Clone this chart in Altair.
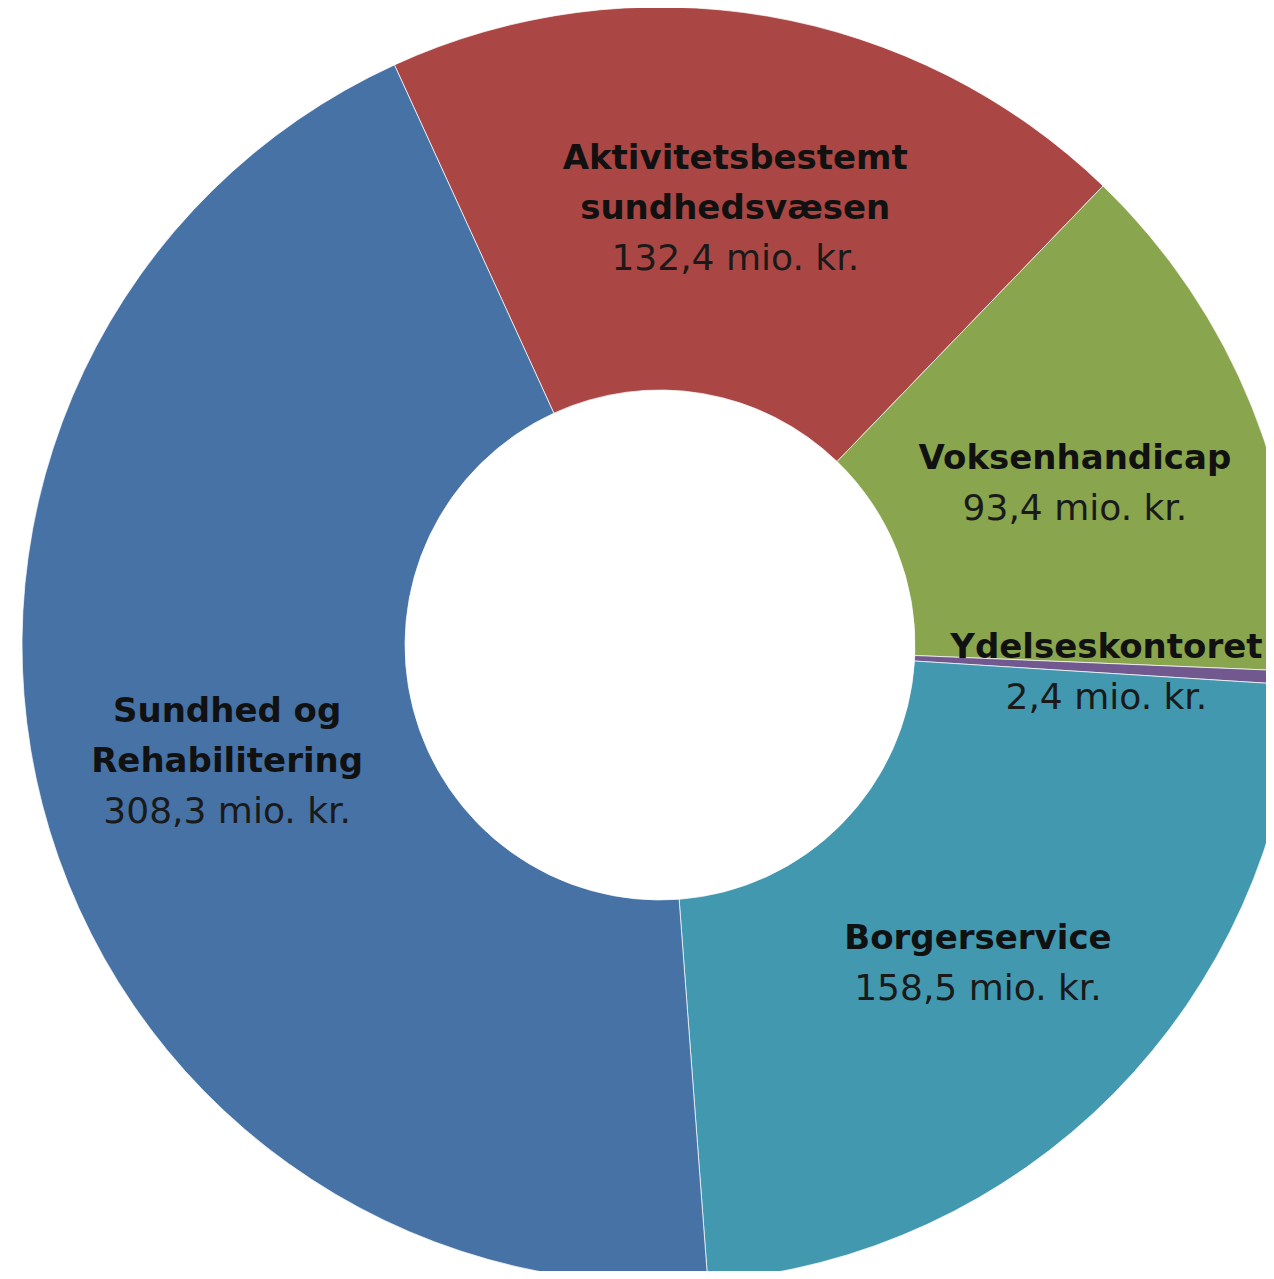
import math
import altair as alt
import pandas as pd

# ---- data ----
categories = ["Aktivitetsbestemt sundhedsvæsen", "Voksenhandicap", "Ydelseskontoret",
              "Borgerservice", "Sundhed og Rehabilitering"]
name_lines = [["Aktivitetsbestemt", "sundhedsvæsen"], ["Voksenhandicap"], ["Ydelseskontoret"],
              ["Borgerservice"], ["Sundhed og", "Rehabilitering"]]
values = [132.4, 93.4, 2.4, 158.5, 308.3]
colors = ["#AA4744", "#89A54E", "#71588F", "#4298AF", "#4672A5"]

value_labels = [f"{v:.1f}".replace(".", ",") + " mio. kr." for v in values]
total = sum(values)

df = pd.DataFrame({"category": categories, "value": values, "order": list(range(len(values)))})

# label lines: one row per text line, positioned at the middle of its slice (data units)
rows = []
cum = 0.0
for cat, v, nl, lbl in zip(categories, values, name_lines, value_labels):
    mid = cum + v / 2
    cum += v
    lines = [(t, "bold") for t in nl] + [(lbl, "normal")]
    n = len(lines)
    for k, (t, w) in enumerate(lines):
        rows.append({"category": cat, "mid": mid, "text": t, "weight": w,
                     "off": int(2 * k - (n - 1))})   # offset in half-lines
lines_df = pd.DataFrame(rows)

start = math.radians(-24.6)
theta_scale = alt.Scale(domain=[0, total], range=[start, start + 2 * math.pi])

cx, cy = 652, 637
LINE_H = 50
LABEL_R = 447
LABEL_SHIFT = 5

arcs = alt.Chart(df).mark_arc(outerRadius=638, innerRadius=255, stroke="#ffffff",
                              strokeWidth=1, strokeOpacity=0.7).encode(
    theta=alt.Theta("value:Q", stack=True, scale=theta_scale),
    order=alt.Order("order:Q"),
    color=alt.Color("category:N", scale=alt.Scale(domain=categories, range=colors), legend=None),
    x=alt.value(cx),
    y=alt.value(cy),
)

layers = [arcs]
for w in ["bold", "normal"]:
    for off in sorted(lines_df.loc[lines_df.weight == w, "off"].unique()):
        layers.append(
            alt.Chart(lines_df).transform_filter(
                (alt.datum.weight == w) & (alt.datum.off == int(off))
            ).mark_text(
                radius=LABEL_R, dy=int(off) * LINE_H / 2 + LABEL_SHIFT,
                font="DejaVu Sans", fontWeight=w,
                fontSize=34 if w == "bold" else 36,
                align="center", baseline="middle",
                color="#111111" if w == "bold" else "#1a1a1a",
            ).encode(
                theta=alt.Theta("mid:Q", stack=None, scale=theta_scale),
                text="text:N",
                x=alt.value(cx),
                y=alt.value(cy),
            )
        )

chart = alt.layer(*layers).properties(
    width=1258, height=1263, autosize=alt.AutoSizeParams(type="none"), padding=0
).configure_view(strokeWidth=0)

chart.save("out.html", embed_options={"renderer": "svg", "actions": False})
